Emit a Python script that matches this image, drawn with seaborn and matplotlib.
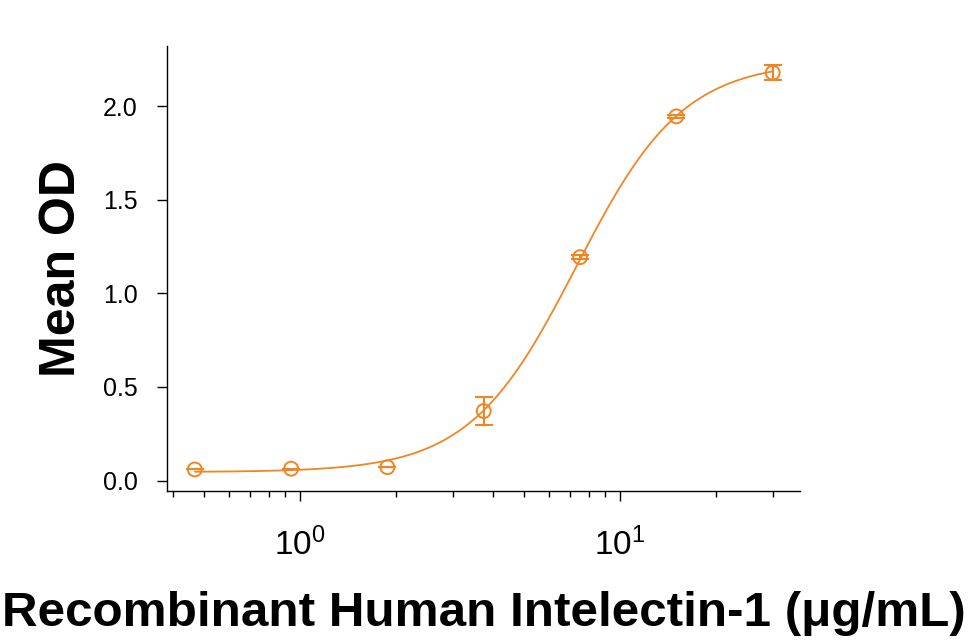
import numpy as np
import pandas as pd
import matplotlib
matplotlib.use("Agg")
import matplotlib.pyplot as plt
import seaborn as sns

# Dose-response data
conc = [0.469, 0.938, 1.875, 3.75, 7.5, 15, 30]          # ug/mL
mean_od = [0.059, 0.063, 0.071, 0.371, 1.193, 1.945, 2.178]
od_err = [0.0, 0.0, 0.0, 0.075, 0.012, 0.008, 0.04]

# 4PL fit parameters estimated from the drawn curve
fit_bottom = 0.045
fit_top = 2.24
fit_ec50 = 7.3
fit_hill = 2.6

orange = "#F28522"

sns.set_style("ticks")
plt.rcParams["font.family"] = ["Liberation Sans", "DejaVu Sans"]
plt.rcParams["text.color"] = "black"
plt.rcParams["axes.labelcolor"] = "black"
plt.rcParams["mathtext.fontset"] = "custom"
plt.rcParams["mathtext.rm"] = "Liberation Sans"
plt.rcParams["mathtext.it"] = "Liberation Sans"
plt.rcParams["mathtext.bf"] = "Liberation Sans"

fig = plt.figure(figsize=(9.69, 6.42), dpi=100)
ax = fig.add_axes([167 / 969, 1 - 491 / 642, 633 / 969, 445 / 642])

# fitted curve
xs = np.logspace(np.log10(conc[0]), np.log10(conc[-1]), 300)
curve = pd.DataFrame({
    "x": xs,
    "y": fit_bottom + (fit_top - fit_bottom) / (1 + (fit_ec50 / xs) ** fit_hill),
})
sns.lineplot(data=curve, x="x", y="y", color=orange, linewidth=1.3, ax=ax)

# points with error bars
ax.errorbar(conc, mean_od, yerr=od_err, fmt="none", ecolor=orange,
            elinewidth=1.5, capsize=6.5, capthick=1.5)
pts = pd.DataFrame({"conc": conc, "od": mean_od})
sns.scatterplot(data=pts, x="conc", y="od", s=100, facecolor="none",
                edgecolor=orange, linewidth=1.4, ax=ax, zorder=3)

ax.set_xscale("log")
ax.set_xlim(0.384, 36.5)
ax.set_ylim(-0.056, 2.321)
ax.set_yticks([0.0, 0.5, 1.0, 1.5, 2.0])
ax.set_yticklabels(["0.0", "0.5", "1.0", "1.5", "2.0"])
ax.set_xticks([1, 10])
ax.set_xticklabels([r"$10^{0}$", r"$10^{1}$"])

sns.despine(ax=ax)
for s in ["left", "bottom"]:
    ax.spines[s].set_linewidth(1.0)
    ax.spines[s].set_color("black")

ax.tick_params(axis="y", length=7, width=1, pad=14, labelsize=18, colors="black")
ax.tick_params(axis="x", which="major", length=7, width=1, pad=19, labelsize=24,
               colors="black")
ax.tick_params(axis="x", which="minor", length=4, width=1, colors="black")

ax.set_xlabel("Recombinant Human Intelectin-1 (\u03bcg/mL)", fontsize=35.6,
              fontweight="bold")
ax.set_ylabel("Mean OD", fontsize=36, fontweight="bold")
ax.xaxis.set_label_coords(0.5, -0.225)
ax.yaxis.set_label_coords(-0.13, 0.5)

fig.savefig("out.png", dpi=100)
